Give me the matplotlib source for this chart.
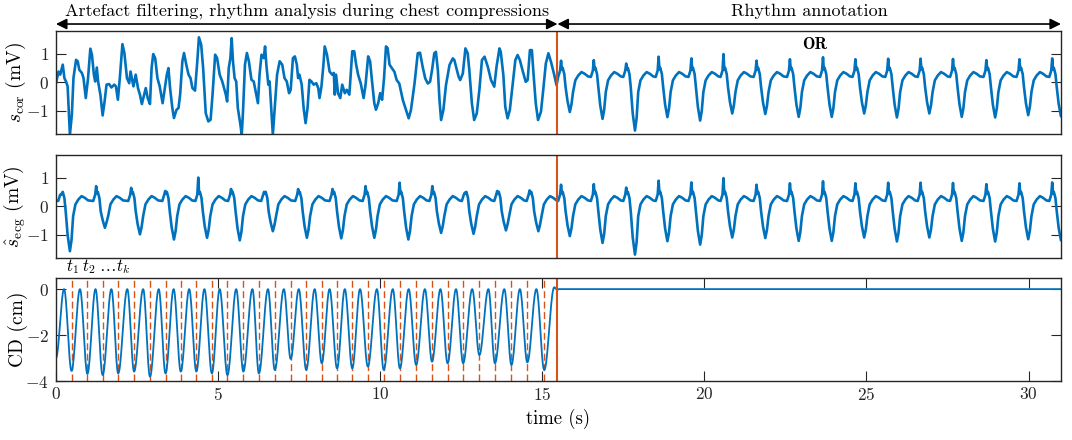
import numpy as np
import matplotlib
matplotlib.use("Agg")
import matplotlib.pyplot as plt

plt.rcParams['font.family'] = 'serif'
plt.rcParams['font.serif'] = ['cmr10']
plt.rcParams['mathtext.fontset'] = 'cm'
plt.rcParams['axes.unicode_minus'] = False
plt.rcParams['axes.formatter.use_mathtext'] = True

BLUE = '#0072BD'
RED = '#D95319'

t_end = 15.47       # end of chest compressions
x_max = 31

# s_cor during compressions, (time s, mV)
scor_pre = [
    (0.00, -0.04), (0.08, 0.37), (0.13, 0.26), (0.21, 0.61), (0.26, 0.14), (0.31, 0.02), (0.36, -0.15),
    (0.43, -1.85), (0.49, -1.15), (0.54, 0.14), (0.62, 0.78), (0.67, 0.73), (0.72, 0.43), (0.80, 0.32),
    (0.85, 0.14), (0.92, -0.56), (0.99, 0.14), (1.06, 1.17), (1.11, 0.96), (1.17, 0.26), (1.21, 0.02),
    (1.26, 0.51), (1.30, 0.02), (1.37, -0.44), (1.44, -1.17), (1.50, -0.68), (1.56, -0.09), (1.64, -0.07),
    (1.71, -0.19), (1.80, -0.09), (1.85, -0.15), (1.91, -0.62), (1.97, 0.14), (2.05, 1.33), (2.11, 1.02),
    (2.19, 0.14), (2.26, -0.04), (2.30, 0.37), (2.34, 0.14), (2.39, -0.15), (2.46, 0.26), (2.53, -0.21),
    (2.59, -0.44), (2.65, -0.77), (2.72, -0.44), (2.77, -0.21), (2.83, -0.56), (2.90, -0.77), (2.95, 0.49),
    (3.00, 0.98), (3.06, 0.84), (3.13, 0.14), (3.20, -0.15), (3.29, -0.74), (3.35, -0.27), (3.42, 0.26),
    (3.47, 0.49), (3.52, -0.21), (3.59, -0.91), (3.64, -1.26), (3.72, -0.97), (3.78, -0.91), (3.83, -0.44),
    (3.90, 0.73), (3.95, 1.02), (4.02, 0.61), (4.09, 0.26), (4.15, 0.14), (4.21, -0.21), (4.29, -0.30),
    (4.36, 0.73), (4.41, 1.57), (4.48, 1.31), (4.54, 0.49), (4.62, -1.09), (4.70, -1.38), (4.77, -1.32),
    (4.83, -0.44), (4.91, 0.96), (4.97, 0.84), (5.05, 0.26), (5.13, 0.02), (5.24, -0.44), (5.28, -0.68),
    (5.33, 0.49), (5.38, 0.84), (5.42, 1.54), (5.46, 0.73), (5.51, 0.14), (5.56, 0.02), (5.61, -0.91),
    (5.69, -1.50), (5.73, -1.85), (5.77, -1.03), (5.83, 0.61), (5.89, 1.02), (5.95, 0.73), (6.03, 0.08),
    (6.10, 0.02), (6.16, -0.33), (6.23, -0.74), (6.28, 0.26), (6.34, 0.96), (6.41, 0.84), (6.45, 1.25),
    (6.49, 0.61), (6.55, -0.09), (6.59, 0.02), (6.64, -0.91), (6.69, -1.85), (6.74, -1.03), (6.82, 0.26),
    (6.90, 0.73), (6.98, 0.61), (7.05, 0.14), (7.12, 0.02), (7.19, -0.39), (7.24, -0.27), (7.31, 0.84),
    (7.37, 0.90), (7.43, 0.61), (7.47, 0.14), (7.51, 0.26), (7.58, -0.09), (7.64, -0.91), (7.70, -1.44),
    (7.76, -0.91), (7.82, 0.08), (7.88, 0.02), (7.95, -0.09), (8.03, -0.04), (8.09, -0.21), (8.13, -0.56),
    (8.19, -0.15), (8.25, 0.61), (8.29, 1.25), (8.36, 0.96), (8.44, 0.37), (8.52, 0.26), (8.57, 0.32),
    (8.60, -0.44), (8.64, 0.26), (8.70, -0.39), (8.77, -0.56), (8.83, -0.09), (8.91, -0.39), (8.97, -0.27),
    (9.05, -0.44), (9.14, 1.08), (9.20, 1.08), (9.26, 0.61), (9.32, 0.26), (9.40, -0.04), (9.49, -0.56),
    (9.55, -0.09), (9.63, 0.90), (9.69, 0.73), (9.75, 0.02), (9.82, -0.74), (9.87, -0.97), (9.94, -0.74),
    (10.00, -0.39), (10.06, -0.62), (10.12, 0.14), (10.18, 1.25), (10.23, 1.19), (10.29, 0.61),
    (10.44, 0.36), (10.51, 0.07), (10.59, -0.05), (10.70, -0.63), (10.80, -0.98), (10.88, -1.27),
    (10.95, -0.98), (11.06, -0.05), (11.16, 1.01), (11.23, 1.03), (11.31, 0.54), (11.39, 0.13),
    (11.47, -0.05), (11.54, 0.01), (11.60, 0.42), (11.67, 1.01), (11.72, 1.06), (11.78, 0.42),
    (11.83, -0.63), (11.88, -1.33), (11.95, -0.98), (12.03, -0.11), (12.14, 0.60), (12.24, 0.83),
    (12.29, 0.77), (12.34, 0.54), (12.42, 0.19), (12.47, 0.07), (12.55, 0.30), (12.63, 1.18),
    (12.70, 1.01), (12.75, 0.42), (12.83, -0.75), (12.90, -1.33), (12.98, -1.10), (13.06, -0.28),
    (13.14, 0.77), (13.22, 0.89), (13.32, 0.54), (13.42, 0.07), (13.52, -0.16), (13.59, 0.54),
    (13.68, 1.18), (13.72, 1.06), (13.80, 0.25), (13.86, -0.87), (13.93, -1.27), (14.00, -0.98),
    (14.08, -0.16), (14.17, 0.77), (14.24, 0.95), (14.31, 0.77), (14.39, 0.42), (14.49, 0.01),
    (14.55, 0.07), (14.62, 1.12), (14.68, 1.12), (14.73, 0.30), (14.80, -0.75), (14.87, -1.33),
    (14.96, -1.04), (15.03, -0.28), (15.11, 0.65), (15.19, 1.01), (15.27, 0.71), (15.37, 0.25),
    (15.44, -0.11),
]

# ECG beats: time of the deep negative deflection, its depth and the sharp spike before it
beat_t = [0.43, 1.51, 2.59, 3.64, 4.66, 5.67, 6.69, 7.74, 8.80, 9.82,
          10.87, 11.88, 12.88, 13.88, 14.88, 15.85, 16.86, 17.86, 18.86, 19.87,
          20.86, 21.88, 22.91, 23.93, 24.93, 25.94, 26.94, 27.94, 28.97, 29.99, 31.0]
beat_depth = [-1.58, -0.76, -0.99, -1.17, -1.11, -1.20, -0.88, -1.11, -1.13, -1.11,
              -1.17, -0.94, -0.97, -0.85, -0.88, -1.05, -1.29, -1.70, -1.23, -1.35,
              -1.10, -1.12, -1.22, -1.22, -1.10, -1.24, -1.10, -1.22, -1.24, -1.16, -1.20]
beat_spike = [0.40, 0.70, 0.64, 0.53, 1.00, 0.60, 0.50, 0.60, 0.60, 0.70,
              0.82, 0.70, 0.47, 0.53, 0.55, 0.75, 0.77, 0.65, 0.89, 0.83,
              0.98, 0.75, 0.80, 0.87, 0.80, 0.82, 0.82, 0.81, 0.77, 0.80, 0.83]

# one beat as read from the clean part of the middle panel (s relative to the deflection)
tmpl_dt = [-0.36, -0.30, -0.27, -0.245, -0.22, -0.17, -0.13, -0.07, 0.0, 0.05, 0.10, 0.17, 0.26, 0.36, 0.46, 0.56]
tmpl_v = [0.18, 0.40, 0.76, 0.45, 0.50, 0.28, -0.18, -0.75, -1.17, -0.88, -0.35, 0.06, 0.23, 0.35, 0.29, 0.20]

# compression depth: troughs at the compression instants t_k, peaks in between
tk = [0.48, 0.97, 1.44, 1.92, 2.41, 2.90, 3.38, 3.85, 4.33, 4.81, 5.29, 5.78, 6.26, 6.75, 7.24, 7.72,
      8.20, 8.67, 9.14, 9.62, 10.11, 10.61, 11.11, 11.60, 12.08, 12.56, 13.06, 13.54, 14.05, 14.54, 15.06]
cd_depth = [-3.56, -3.69, -3.74, -3.67, -3.59, -3.81, -3.67, -3.59, -3.59, -3.67, -3.74, -3.59, -3.67,
            -3.52, -3.04, -3.52, -3.23, -3.45, -3.45, -3.37, -3.52, -3.45, -3.30, -3.16, -3.23, -3.23,
            -2.87, -3.23, -3.30, -3.19, -3.52]
cd_peak_t = [0.25, 0.74, 1.22, 1.71, 2.20, 2.69, 3.17, 3.63, 4.11, 4.58, 5.05, 5.56, 6.06, 6.54, 7.03, 7.49,
             7.98, 8.44, 8.91, 9.38, 9.90, 10.39, 10.88, 11.38, 11.86, 12.34, 12.84, 13.34, 13.83, 14.31,
             14.82, 15.37]
cd_peak = [0.0] * 31 + [0.08]


def build_ecg():
    ts, vs = [0.0], [0.2]
    for t0, d, s in zip(beat_t, beat_depth, beat_spike):
        v = np.array(tmpl_v)
        v[2] = s
        v[7:10] *= d / tmpl_v[8]
        ts.extend(t0 + np.array(tmpl_dt))
        vs.extend(v)
    return np.array(ts), np.array(vs)


def build_cd():
    ext_t = [0.0]
    ext_v = [-3.0]
    for i in range(len(tk)):
        ext_t += [cd_peak_t[i], tk[i]]
        ext_v += [cd_peak[i], cd_depth[i]]
    ext_t += [cd_peak_t[-1], t_end]
    ext_v += [cd_peak[-1], -0.05]
    ts, vs = [], []
    for a in range(len(ext_t) - 1):
        s = np.linspace(0, 1, 20)
        ts.extend(ext_t[a] + (ext_t[a + 1] - ext_t[a]) * s)
        vs.extend(ext_v[a] + (ext_v[a + 1] - ext_v[a]) * (1 - np.cos(np.pi * s)) / 2)
    ts += [t_end, x_max]
    vs += [0.0, 0.0]
    return np.array(ts), np.array(vs)


ecg_t, ecg_v = build_ecg()
pre = np.array(scor_pre)
post = ecg_t >= t_end
scor_t = np.concatenate([pre[:, 0], ecg_t[post]])
scor_v = np.concatenate([pre[:, 1], ecg_v[post]])
cd_t, cd_v = build_cd()

fig = plt.figure(figsize=(10.72, 4.40), dpi=100)
left, width, h = 0.0522, 0.9375, 0.234
ax1 = fig.add_axes([left, 0.6955, width, h])
ax2 = fig.add_axes([left, 0.4136, width, h])
ax3 = fig.add_axes([left, 0.134, width, h])

ax1.plot(scor_t, scor_v, color=BLUE, lw=1.9)
ax2.plot(ecg_t, ecg_v, color=BLUE, lw=1.9)
for t in tk:
    ax3.axvline(t, color=RED, lw=1.0, ls=(0, (5, 2.5)))
ax3.plot(cd_t, cd_v, color=BLUE, lw=1.3)

for ax in (ax1, ax2, ax3):
    ax.axvline(t_end, color=RED, lw=1.5)
    ax.set_xlim(0, x_max)
    for sp in ax.spines.values():
        sp.set_color('#262626')
        sp.set_linewidth(1.0)
    ax.tick_params(direction='in', length=7, width=0.8, right=True, labelsize=12.5, colors='#262626')
    ax.tick_params(axis='y', pad=5)

for ax in (ax1, ax2):
    ax.set_ylim(-1.82, 1.79)
    ax.set_yticks([-1, 0, 1])
    ax.set_xticks([])

ax3.set_ylim(-4, 0.48)
ax3.set_yticks([-4, -2, 0])
ax3.set_xticks([0, 5, 10, 15, 20, 25, 30])
ax3.tick_params(top=True)

ax1.set_ylabel(r'$s_{\mathrm{cor}}$ (mV)', fontsize=14)
ax2.set_ylabel(r'$\hat{s}_{\mathrm{ecg}}$ (mV)', fontsize=14)
ax3.set_ylabel('CD (cm)', fontsize=14)
for ax in (ax1, ax2, ax3):
    ax.yaxis.set_label_coords(-0.028, 0.5)
ax3.set_xlabel('time (s)', fontsize=13.5, labelpad=4)

ax1.text(23.4, 1.33, 'OR', family='cmb10', fontsize=12, ha='center', va='center')
ax3.text(0.3, 0.55, r'$t_1\;t_2\;\ldots t_k$', fontsize=12, ha='left', va='bottom')

# phase arrows above the top panel
tr = ax1.get_xaxis_transform()
for x0, x1, label in [(0, t_end, 'Artefact filtering, rhythm analysis during chest compressions'),
                      (t_end, x_max, 'Rhythm annotation')]:
    ax1.annotate('', xy=(x0, 1.068), xytext=(x1, 1.068), xycoords=tr, textcoords=tr,
                 annotation_clip=False,
                 arrowprops=dict(arrowstyle='<|-|>', color='black', lw=1.2,
                                 mutation_scale=16, shrinkA=0, shrinkB=0))
    ax1.text((x0 + x1) / 2, 1.19, label, transform=tr, ha='center', va='center', fontsize=13)

fig.savefig('out.png', dpi=100)
